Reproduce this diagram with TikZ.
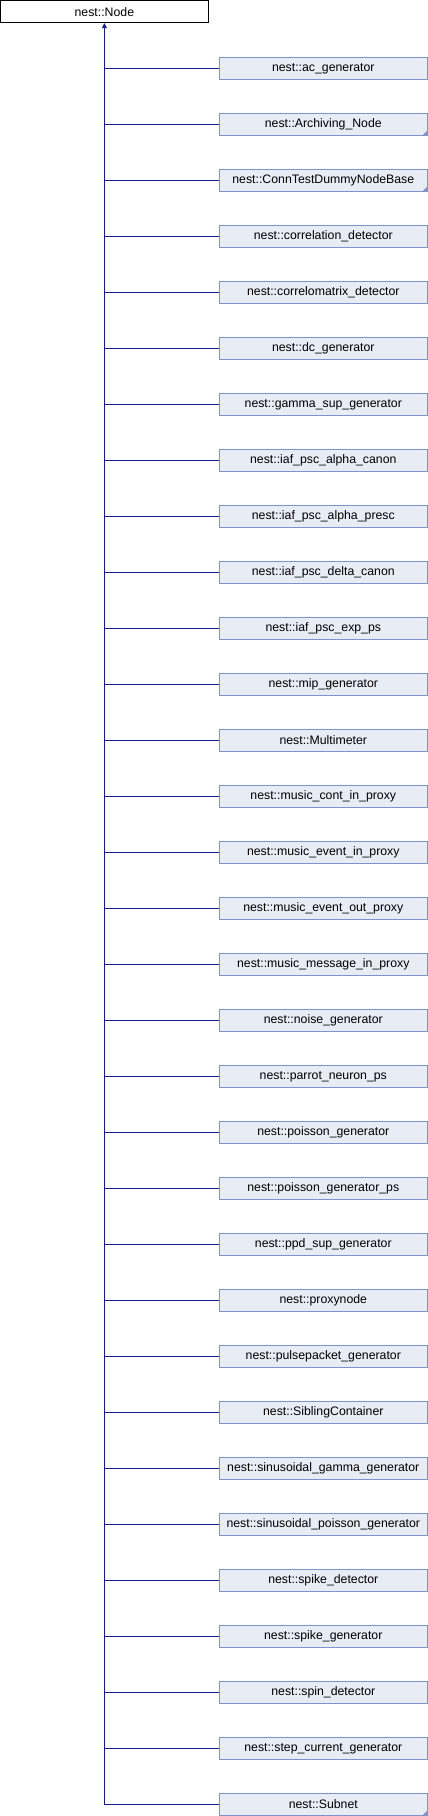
\documentclass[tikz,border=0pt]{standalone}
\usepackage{fontspec}
\setmainfont{Liberation Sans}
\usepackage{tikz}
\usetikzlibrary{arrows.meta,positioning,calc}

\definecolor{boxfill}{HTML}{E8ECF5}
\definecolor{boxline}{HTML}{7C94C8}
\definecolor{inhline}{HTML}{1A1A96}

\begin{document}
\begin{tikzpicture}[
    x=1pt, y=-1pt,
    base/.style={rectangle, draw=black, fill=white, line width=0.9pt, minimum width=207.5pt, minimum height=22pt, inner sep=0pt, font=\fontsize{12.3}{14}\selectfont},
    derived/.style={rectangle, draw=boxline, fill=boxfill, line width=0.9pt, minimum width=207.5pt, minimum height=22pt, inner sep=0pt, font=\fontsize{12.3}{14}\selectfont},
    corner/.style={fill=boxline},
    inh/.style={draw=inhline, line width=0.9pt},
    arr/.style={-{Triangle[length=5pt,width=5pt]}, draw=inhline, line width=0.9pt}
]
    \useasboundingbox (0,0) rectangle (428,1816);

    \node [base] (n0) at (104.4,11.7) {nest::Node};

    % derived classes, one row each
    \foreach \name [count=\i] in {nest::ac\_generator, nest::Archiving\_Node, nest::ConnTestDummyNodeBase,
        nest::correlation\_detector, nest::correlomatrix\_detector, nest::dc\_generator,
        nest::gamma\_sup\_generator, nest::iaf\_psc\_alpha\_canon, nest::iaf\_psc\_alpha\_presc,
        nest::iaf\_psc\_delta\_canon, nest::iaf\_psc\_exp\_ps, nest::mip\_generator,
        nest::Multimeter, nest::music\_cont\_in\_proxy, nest::music\_event\_in\_proxy,
        nest::music\_event\_out\_proxy, nest::music\_message\_in\_proxy, nest::noise\_generator,
        nest::parrot\_neuron\_ps, nest::poisson\_generator, nest::poisson\_generator\_ps,
        nest::ppd\_sup\_generator, nest::proxynode, nest::pulsepacket\_generator,
        nest::SiblingContainer, nest::sinusoidal\_gamma\_generator, nest::sinusoidal\_poisson\_generator,
        nest::spike\_detector, nest::spike\_generator, nest::spin\_detector,
        nest::step\_current\_generator, nest::Subnet}
    {
        \node [derived] (n\i) at (323.3,{68.3+56*(\i-1)}) {\name};
    }

    % marks for classes with further subclasses
    \foreach \i in {2,3,32}
        \fill [corner] ([xshift=-5pt,yshift=0.45pt]n\i.south east) -- ([xshift=-0.45pt,yshift=0.45pt]n\i.south east) -- ([xshift=-0.45pt,yshift=5pt]n\i.south east) -- cycle;

    \coordinate (trunk) at (n0.south |- n32.west);
    \draw [arr] (trunk) -- (n0.south);
    \foreach \i in {1,...,32}
        \draw [inh] (n\i.west) -- (n\i.west -| trunk);
\end{tikzpicture}
\end{document}
